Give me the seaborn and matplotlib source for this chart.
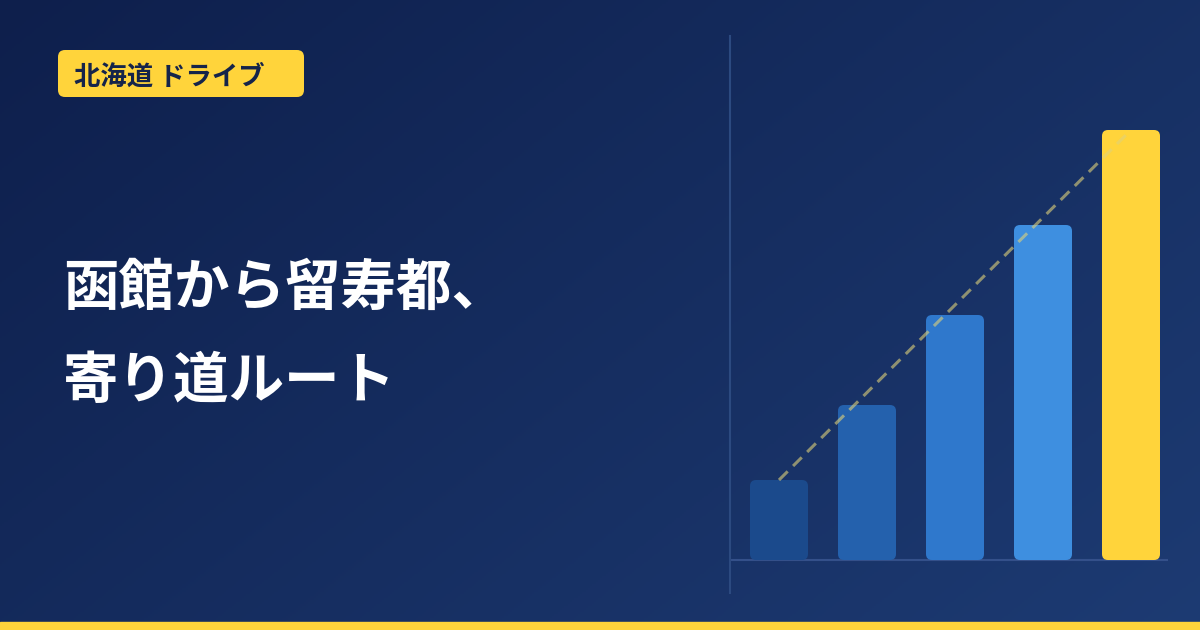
import numpy as np
import pandas as pd
import matplotlib
matplotlib.use("Agg")
import matplotlib.pyplot as plt
import seaborn as sns
from matplotlib.patches import FancyBboxPatch, Rectangle

# data
steps = ["1", "2", "3", "4", "5"]
values = [80, 155, 245, 335, 430]
bar_colors = ["#1b4a8c", "#2461ad", "#2f78cc", "#3e8fe0", "#ffd43b"]
badge_text = "北海道 ドライブ"
title_lines = ["函館から留寿都、", "寄り道ルート"]

sns.set_theme(style="white")
plt.rcParams["font.family"] = ["Noto Sans CJK JP", "DejaVu Sans"]

W, H, DPI = 1200, 630, 100
fig = plt.figure(figsize=(W / DPI, H / DPI), dpi=DPI)

# background in pixel coords
bg = fig.add_axes([0, 0, 1, 1])
bg.set_xlim(0, W)
bg.set_ylim(H, 0)
bg.axis("off")
yy, xx = np.mgrid[0:H:2, 0:W:2]
t = (xx / W * 0.6 + yy / H * 0.4)
c0 = np.array([0x0e, 0x1f, 0x4c]) / 255
c1 = np.array([0x1d, 0x3b, 0x73]) / 255
img = c0[None, None, :] + (c1 - c0)[None, None, :] * t[..., None]
bg.imshow(img, extent=[0, W, H, 0], aspect="auto", zorder=0)
bg.add_patch(Rectangle((0, 622), W, 8, color="#ffd43b", zorder=1))

# badge
bg.add_patch(FancyBboxPatch((58, 50), 246, 47, boxstyle="round,pad=0,rounding_size=7",
                            facecolor="#ffd43b", edgecolor="none", zorder=2))
bg.text(74, 74, badge_text, color="#15244a", fontsize=19, fontweight="bold",
        va="center_baseline", ha="left", zorder=3)

# title
for i, line in enumerate(title_lines):
    bg.text(63, 305 + i * 93, line, color="white", fontsize=40, fontweight="bold",
            va="baseline", ha="left", zorder=3)

# chart
x0, x1 = 730, 1168
ytop, ybot, base = 36, 593, 560
ax = fig.add_axes([x0 / W, 1 - ybot / H, (x1 - x0) / W, (ybot - ytop) / H])
ax.patch.set_alpha(0)
df = pd.DataFrame({"step": steps, "value": values})
sns.barplot(data=df, x="step", y="value", hue="step", palette=bar_colors,
            legend=False, width=58 / 88, ax=ax, saturation=1)
ax.set_xlim(-49 / 88, (x1 - 779) / 88)
ax.set_ylim(-(ybot - base), base - ytop)

for p in list(ax.patches):
    bx, by, bw, bh = p.get_x(), p.get_y(), p.get_width(), p.get_height()
    fc = p.get_facecolor()
    p.remove()
    ax.add_patch(FancyBboxPatch((bx, by), bw, bh,
                                boxstyle="round,pad=0,rounding_size=%f" % (6 / 88),
                                mutation_aspect=88, facecolor=fc, edgecolor="none", zorder=2))

ax.axhline(0, color="#34508a", lw=1.5, zorder=1)
ax.plot([0, len(values) - 1], [values[0], values[-1]], color="#e0d27a", alpha=0.6,
        lw=2.2, ls=(0, (4, 2.5)), zorder=3)

for s in ["top", "right", "bottom"]:
    ax.spines[s].set_visible(False)
ax.spines["left"].set_color("#2c4a80")
ax.spines["left"].set_linewidth(1.5)
ax.set_xticks([])
ax.set_yticks([])
ax.set_xlabel("")
ax.set_ylabel("")

fig.savefig("out.png", dpi=DPI)
